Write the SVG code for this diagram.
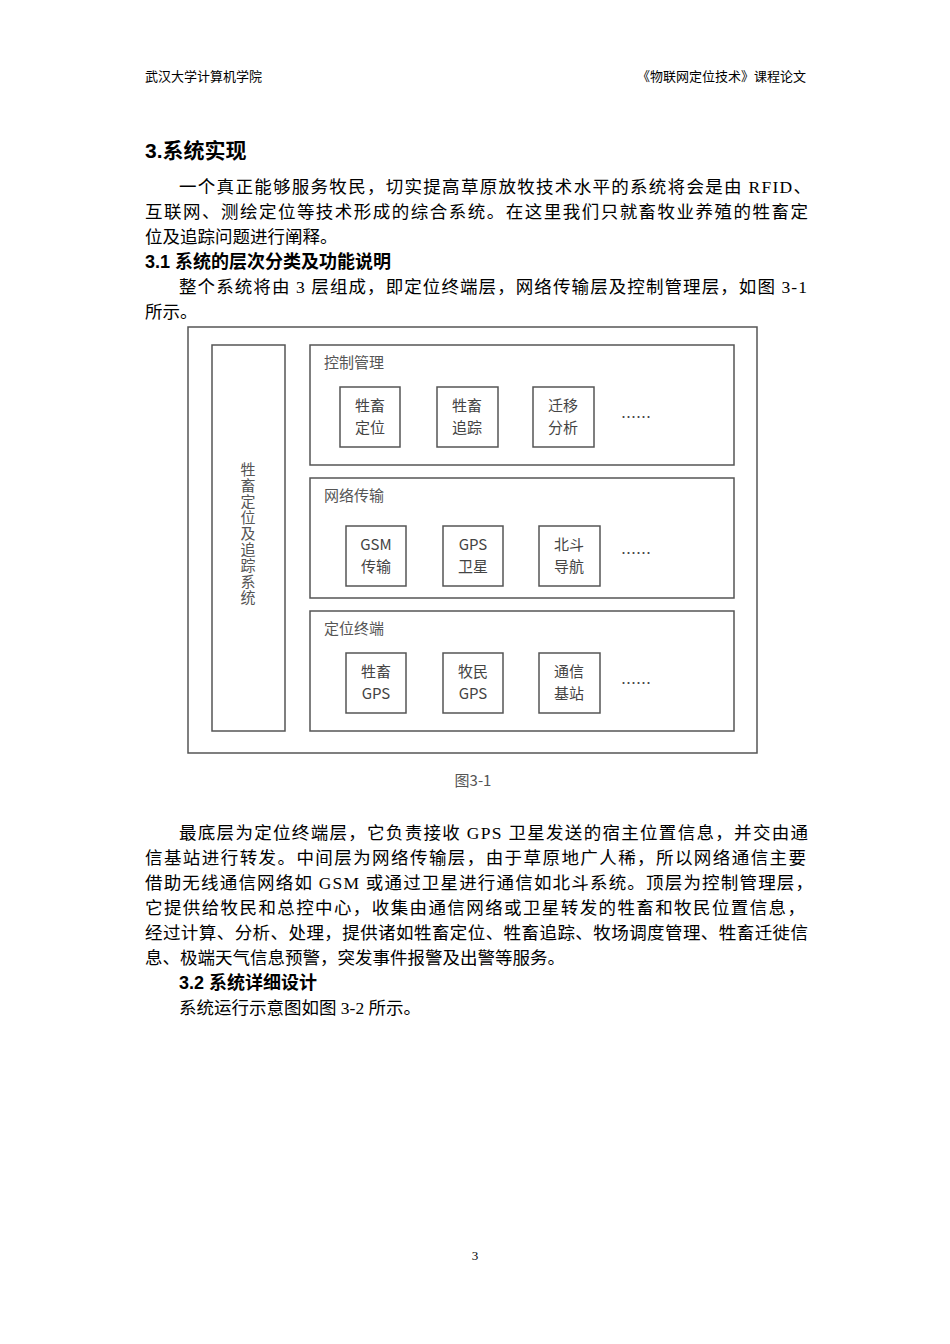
<svg xmlns="http://www.w3.org/2000/svg" width="950" height="1344" viewBox="0 0 950 1344">
<style>
.t{font-family:"Liberation Serif","Noto Sans CJK SC",serif;font-size:17.5px;fill:#000}
.h{font-family:"Liberation Sans","Noto Sans CJK SC",sans-serif;font-weight:bold;fill:#000}
.hd{font-family:"Liberation Serif","Noto Sans CJK SC",serif;font-size:13px;fill:#000}
.b{fill:#fff;stroke:#555;stroke-width:1.5}
.l{font-family:"Noto Sans CJK SC",sans-serif;font-size:15px;fill:#555}
.s{font-family:"Noto Sans CJK SC",sans-serif;font-size:15px;fill:#444;text-anchor:middle}
</style>
<rect width="950" height="1344" fill="#fff"/>
<text class="hd" x="145" y="81">武汉大学计算机学院</text>
<text class="hd" x="806" y="81" text-anchor="end">《物联网定位技术》课程论文</text>
<text class="h" x="145" y="158" font-size="21">3.系统实现</text>
<text class="t" x="179" y="193" textLength="632" lengthAdjust="spacing">一个真正能够服务牧民，切实提高草原放牧技术水平的系统将会是由 RFID、</text>
<text class="t" x="145" y="218" textLength="663" lengthAdjust="spacing">互联网、测绘定位等技术形成的综合系统。在这里我们只就畜牧业养殖的牲畜定</text>
<text class="t" x="145" y="243">位及追踪问题进行阐释。</text>
<text class="h" x="145" y="268" font-size="18">3.1 系统的层次分类及功能说明</text>
<text class="t" x="179" y="293" textLength="628" lengthAdjust="spacing">整个系统将由 3 层组成，即定位终端层，网络传输层及控制管理层，如图 3-1</text>
<text class="t" x="145" y="318">所示。</text>
<g id="diagram">
<rect class="b" x="188" y="327" width="569" height="426"/>
<g id="system"><rect class="b" x="212" y="345" width="73" height="386"/>
<text class="l" x="248" y="462" text-anchor="start" font-size="16" letter-spacing="1" style="writing-mode:tb;glyph-orientation-vertical:0">牲畜定位及追踪系统</text></g>
<g id="layer1"><rect class="b" x="310" y="345" width="424" height="120"/><text class="l" x="324" y="368">控制管理</text></g>
<g id="layer2"><rect class="b" x="310" y="478" width="424" height="120"/><text class="l" x="324" y="501">网络传输</text></g>
<g id="layer3"><rect class="b" x="310" y="611" width="424" height="120"/><text class="l" x="324" y="634">定位终端</text></g>
<g id="n1"><rect class="b" x="340" y="387" width="60" height="60"/><text class="s" x="370" y="411">牲畜</text><text class="s" x="370" y="433">定位</text></g>
<g id="n2"><rect class="b" x="437" y="387" width="61" height="60"/><text class="s" x="467" y="411">牲畜</text><text class="s" x="467" y="433">追踪</text></g>
<g id="n3"><rect class="b" x="533" y="387" width="61" height="60"/><text class="s" x="563" y="411">迁移</text><text class="s" x="563" y="433">分析</text></g>
<text class="s" x="636" y="423">……</text>
<g id="n4"><rect class="b" x="346" y="526" width="60" height="60"/><text class="s" x="376" y="550">GSM</text><text class="s" x="376" y="572">传输</text></g>
<g id="n5"><rect class="b" x="443" y="526" width="60" height="60"/><text class="s" x="473" y="550">GPS</text><text class="s" x="473" y="572">卫星</text></g>
<g id="n6"><rect class="b" x="539" y="526" width="61" height="60"/><text class="s" x="569" y="550">北斗</text><text class="s" x="569" y="572">导航</text></g>
<text class="s" x="636" y="559">……</text>
<g id="n7"><rect class="b" x="346" y="653" width="60" height="60"/><text class="s" x="376" y="677">牲畜</text><text class="s" x="376" y="699">GPS</text></g>
<g id="n8"><rect class="b" x="443" y="653" width="60" height="60"/><text class="s" x="473" y="677">牧民</text><text class="s" x="473" y="699">GPS</text></g>
<g id="n9"><rect class="b" x="539" y="653" width="61" height="60"/><text class="s" x="569" y="677">通信</text><text class="s" x="569" y="699">基站</text></g>
<text class="s" x="636" y="689">……</text>
<g id="connectors"/>
</g>
<text class="l" x="473" y="786" text-anchor="middle" font-size="14">图3-1</text>
<text class="t" x="179" y="839" textLength="629" lengthAdjust="spacing">最底层为定位终端层，它负责接收 GPS 卫星发送的宿主位置信息，并交由通</text>
<text class="t" x="145" y="864" textLength="661" lengthAdjust="spacing">信基站进行转发。中间层为网络传输层，由于草原地广人稀，所以网络通信主要</text>
<text class="t" x="145" y="889" textLength="668" lengthAdjust="spacing">借助无线通信网络如 GSM 或通过卫星进行通信如北斗系统。顶层为控制管理层，</text>
<text class="t" x="145" y="914" textLength="660" lengthAdjust="spacing">它提供给牧民和总控中心，收集由通信网络或卫星转发的牲畜和牧民位置信息，</text>
<text class="t" x="145" y="939" textLength="663" lengthAdjust="spacing">经过计算、分析、处理，提供诸如牲畜定位、牲畜追踪、牧场调度管理、牲畜迁徙信</text>
<text class="t" x="145" y="964">息、极端天气信息预警，突发事件报警及出警等服务。</text>
<text class="h" x="179" y="989" font-size="18">3.2 系统详细设计</text>
<text class="t" x="179" y="1014">系统运行示意图如图 3-2 所示。</text>
<text class="hd" x="475" y="1260" text-anchor="middle">3</text>
</svg>
